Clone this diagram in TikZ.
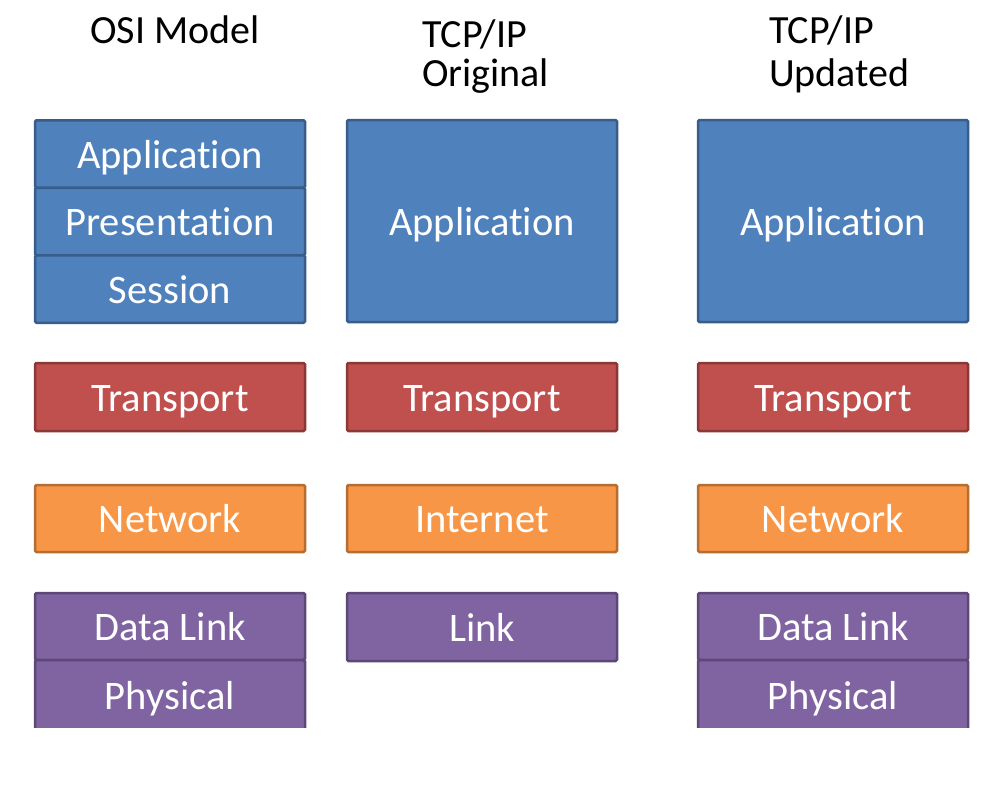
\documentclass[tikz,border=0pt]{standalone}
\usepackage{fontspec}
\setmainfont[Ligatures=NoCommon]{Carlito}
\definecolor{bfill}{HTML}{4F81BD}\definecolor{bline}{HTML}{385D8A}
\definecolor{rfill}{HTML}{C0504D}\definecolor{rline}{HTML}{8C3836}
\definecolor{ofill}{HTML}{F79646}\definecolor{oline}{HTML}{B66D31}
\definecolor{pfill}{HTML}{8064A2}\definecolor{pline}{HTML}{5C4776}
\tikzset{
  layertext/.style={text=white, font=\fontsize{40.5}{40}\selectfont, text height=28pt, text depth=0pt, inner sep=0pt},
  layer/.style={layertext, rectangle, rounded corners=1.5pt, line width=2.5pt, minimum width=270pt},
  bluebox/.style={layer, fill=bfill, draw=bline},
  redbox/.style={layer, fill=rfill, draw=rline},
  orangebox/.style={layer, fill=ofill, draw=oline},
  purplebox/.style={layer, fill=pfill, draw=pline},
  title/.style={anchor=base west, inner sep=0pt, font=\fontsize{40}{40}\selectfont, text=black}
}
\begin{document}
\begin{tikzpicture}[x=1pt,y=-1pt]
\useasboundingbox (0,0) rectangle (1004,800);
\fill[white] (0,0) rectangle (1004,800);
% titles
\node[title] (t1) at (90,44) {OSI Model};
\node[title] (t2a) at (422,48) {TCP/IP};
\node[title] (t2b) at (422,87) {Original};
\node[title] (t3a) at (769,44) {TCP/IP};
\node[title] (t3b) at (769,86) {Updated};
% OSI column
\node[bluebox, minimum height=67.5pt] (oapp) at (170,154) {Application};
\node[bluebox, minimum height=67.5pt] (opres) at (170,221.5) {Presentation};
\node[bluebox, minimum height=67.5pt] (osess) at (170,289) {Session};
\node[redbox, minimum height=68pt] (otrans) at (170,397) {Transport};
\node[orangebox, minimum height=67pt] (onet) at (170,518.5) {Network};
\begin{scope}
\clip (0,0) rectangle (1004,727);
\node[purplebox, minimum height=67pt] (odl) at (170,626.5) {Data Link};
\node[purplebox, minimum height=70pt] (ophy) at (170,695) {Physical};
\node[purplebox, minimum height=67pt] (udl) at (833,626.5) {Data Link};
\node[purplebox, minimum height=70pt] (uphy) at (833,695) {Physical};
\end{scope}
% TCP/IP original
\node[bluebox, minimum height=202pt] (capp) at (482,221) {};
\node[layertext] at (capp) {Application};
\node[redbox, minimum height=68pt] (ctrans) at (482,397) {Transport};
\node[orangebox, minimum height=67pt] (cnet) at (482,518.5) {Internet};
\node[purplebox, minimum height=68pt] (clink) at (482,627) {Link};
% TCP/IP updated
\node[bluebox, minimum height=202pt] (uapp) at (833,221) {};
\node[layertext] at (uapp) {Application};
\node[redbox, minimum height=68pt] (utrans) at (833,397) {Transport};
\node[orangebox, minimum height=67pt] (unet) at (833,518.5) {Network};
\end{tikzpicture}
\end{document}
